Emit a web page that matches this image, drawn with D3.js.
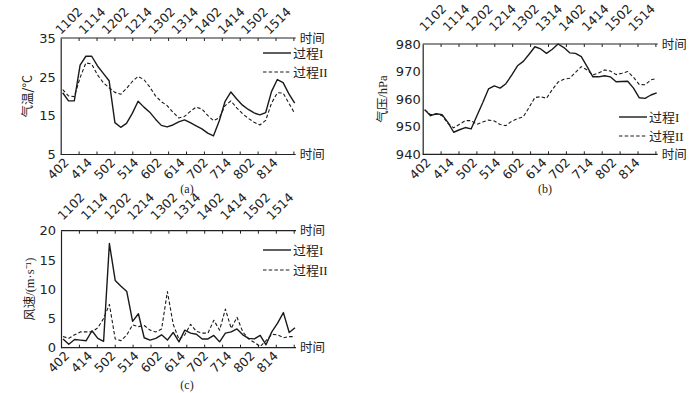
<!DOCTYPE html>
<html><head><meta charset="utf-8">
<script src="https://cdn.jsdelivr.net/npm/d3@7"></script>
<style>body{margin:0;background:#fff}svg{display:block}</style>
</head><body>
<script>
// ---- data (3-hourly, 41 points) ----
const bottomLabels = ["402","414","502","514","602","614","702","714","802","814"];
const topLabels = ["1102","1114","1202","1214","1302","1314","1402","1414","1502","1514"];
const tempI  = [20.9,18.8,18.8,28.0,30.3,30.3,27.8,25.9,24.0,13.2,12.0,13.0,15.6,18.7,17.2,15.9,14.1,12.5,12.1,12.6,13.4,13.9,13.2,12.4,11.6,10.5,9.8,13.7,18.7,21.1,19.3,17.7,16.6,15.7,15.2,15.8,21.2,24.3,23.5,20.6,18.2];
const tempII = [21.7,20.1,19.9,24.8,28.6,28.3,25.5,23.5,22.2,21.0,20.5,22.0,23.8,25.1,24.3,22.4,20.1,18.6,17.6,15.9,14.4,14.8,16.1,17.2,16.7,15.1,13.7,14.4,17.6,18.8,17.0,15.5,14.3,13.3,12.6,13.8,18.2,20.9,20.8,18.2,15.6];
const presI  = [956.2,954.0,954.7,954.4,951.6,948.0,948.9,949.7,949.2,954.0,958.7,963.7,964.8,964.0,965.6,968.7,972.1,973.7,976.3,979.0,978.2,976.6,978.1,980.0,978.7,976.8,976.6,975.4,971.8,968.1,968.1,968.5,968.1,966.3,966.4,966.5,964.0,960.5,960.3,961.5,962.3];
const presII = [956.1,954.4,954.6,954.0,951.2,949.6,950.9,952.2,952.2,950.9,951.7,952.4,952.1,950.8,950.4,952.0,952.9,953.6,957.0,960.6,960.9,960.3,963.5,966.2,967.2,967.6,969.7,971.8,970.6,968.7,969.5,970.6,970.2,968.9,969.4,970.0,967.9,965.3,965.2,967.0,967.5];
const windI  = [1.5,0.6,1.4,1.3,1.2,2.9,1.6,1.1,17.8,11.5,10.5,9.6,4.5,5.8,1.7,1.3,1.6,2.2,1.3,2.6,1.0,3.0,2.5,2.3,1.5,1.5,2.1,1.0,2.5,2.7,3.2,2.2,1.6,1.5,2.1,0.5,2.7,4.2,6.0,2.6,3.4];
const windII = [1.9,1.6,2.2,2.7,2.7,2.7,3.4,5.0,7.4,1.5,1.2,2.2,3.9,3.6,3.8,3.0,2.7,3.2,9.6,4.0,1.4,2.2,4.0,2.8,2.5,2.5,4.7,3.0,6.6,3.3,5.2,2.7,1.5,0.9,0.2,1.2,2.3,2.2,1.7,1.9,1.9];
const seriesNames = ["过程I","过程II"];

const NUM = "DejaVu Sans, sans-serif";
const CJK = "'Noto Sans CJK SC', sans-serif";
const SERIF = "'Liberation Serif','Noto Sans CJK SC', serif";

const svg = d3.select("body").append("svg").attr("width",700).attr("height",393);

const panels = [
  {left:60.7, top:38, bottom:154.5, dom:[5,35], ticks:[5,15,25,35], data:[tempI,tempII], title:"气温/°C", titleFont:CJK, titleX:28, ylGap:5,
   topDx:-2, topDy:-3, cap:"(a)", capX:187, capY:193, legX:263, legY:[53,72]},
  {left:422.7, top:44, bottom:154.3, dom:[940,980], ticks:[940,950,960,970,980], data:[presI,presII], title:"气压/hPa", titleFont:SERIF, titleX:383, ylGap:2,
   topDx:0, topDy:-12, cap:"(b)", capX:545, capY:193, legX:619, legY:[117,136]},
  {left:61, top:230.7, bottom:347.7, dom:[0,20], ticks:[0,5,10,15,20], data:[windI,windII], title:"风速/(m·s⁻¹)", titleFont:SERIF, titleX:30, ylGap:5,
   topDx:0, topDy:-10, cap:"(c)", capX:187, capY:389, legX:263, legY:[250,270]}
];

panels.forEach(p => {
  const g = svg.append("g");
  const W = 235;
  const x = d3.scaleLinear().domain([0,40]).range([p.left+2, p.left+234]);
  const y = d3.scaleLinear().domain(p.dom).range([p.bottom, p.top]);

  // left axis
  const ya = g.append("g").attr("transform",`translate(${p.left},0)`)
    .call(d3.axisLeft(y).tickValues(p.ticks).tickSize(0).tickPadding(p.ylGap).tickFormat(d3.format("d")));
  ya.select(".domain").attr("stroke","#222").attr("stroke-width",1.2);
  ya.selectAll("text").attr("font-family",NUM).attr("font-size",13).attr("fill","#222");

  // top & bottom axis lines with inner minor ticks
  const tk = d3.scaleLinear().domain([0,13]).range([p.left, p.left+232.7]);
  const bAx = g.append("g").attr("transform",`translate(0,${p.bottom})`)
    .call(d3.axisBottom(tk).tickValues(d3.range(1,14)).tickSize(-3).tickSizeOuter(0).tickFormat(""));
  const tAx = g.append("g").attr("transform",`translate(0,${p.top})`)
    .call(d3.axisTop(tk).tickValues(d3.range(1,14)).tickSize(-3).tickSizeOuter(0).tickFormat(""));
  [bAx,tAx].forEach(a=>{
    a.select(".domain").attr("d",`M${p.left},0H${p.left+W}`).attr("stroke","#222").attr("stroke-width",1.2);
    a.selectAll("line").attr("stroke","#222");
  });

  // time labels
  g.selectAll(".bl").data(bottomLabels).join("text")
    .attr("transform",(d,i)=>`translate(${x(4*i)+7},${p.bottom+9}) rotate(-45)`)
    .attr("text-anchor","end").attr("font-family",NUM).attr("font-size",12.5).attr("fill","#222").text(d=>d);
  g.selectAll(".tl").data(topLabels).join("text")
    .attr("transform",(d,i)=>`translate(${x(4*i)+p.topDx},${p.top+p.topDy}) rotate(-45)`)
    .attr("text-anchor","start").attr("font-family",NUM).attr("font-size",12.5).attr("fill","#222").text(d=>d);

  // 时间 labels
  [p.top,p.bottom].forEach(yy=>{
    g.append("text").attr("x",p.left+W+4).attr("y",yy).attr("dy","0.36em")
      .attr("font-family",CJK).attr("font-size",12.5).attr("fill","#222").text("时间");
  });

  // y title
  g.append("text").attr("transform",`translate(${p.titleX},${(p.top+p.bottom)/2}) rotate(-90)`)
    .attr("text-anchor","middle").attr("dy","0.35em").attr("font-family",p.titleFont).attr("font-size",12.5).attr("fill","#222").text(p.title);

  // caption
  g.append("text").attr("x",p.capX).attr("y",p.capY).attr("text-anchor","middle")
    .attr("font-family",SERIF).attr("font-size",12).attr("fill","#222").text(p.cap);

  // lines
  const line = d3.line().x((d,i)=>x(i)).y(d=>y(d));
  p.data.forEach((arr,k)=>{
    g.append("path").datum(arr).attr("d",line).attr("fill","none")
      .attr("stroke","#1a1a1a").attr("stroke-width",k?1.1:1.4)
      .attr("stroke-dasharray",k?"3.5,2.2":null).attr("stroke-linejoin","round");
  });

  // legend
  seriesNames.forEach((nm,k)=>{
    const ly = p.legY[k];
    g.append("line").attr("x1",p.legX).attr("x2",p.legX+28).attr("y1",ly).attr("y2",ly)
      .attr("stroke","#1a1a1a").attr("stroke-width",k?1.1:1.4).attr("stroke-dasharray",k?"3.5,2.2":null);
    g.append("text").attr("x",p.legX+30).attr("y",ly).attr("dy","0.36em")
      .attr("font-family",SERIF).attr("font-size",13).attr("fill","#222").text(nm);
  });
});
</script>
</body></html>
